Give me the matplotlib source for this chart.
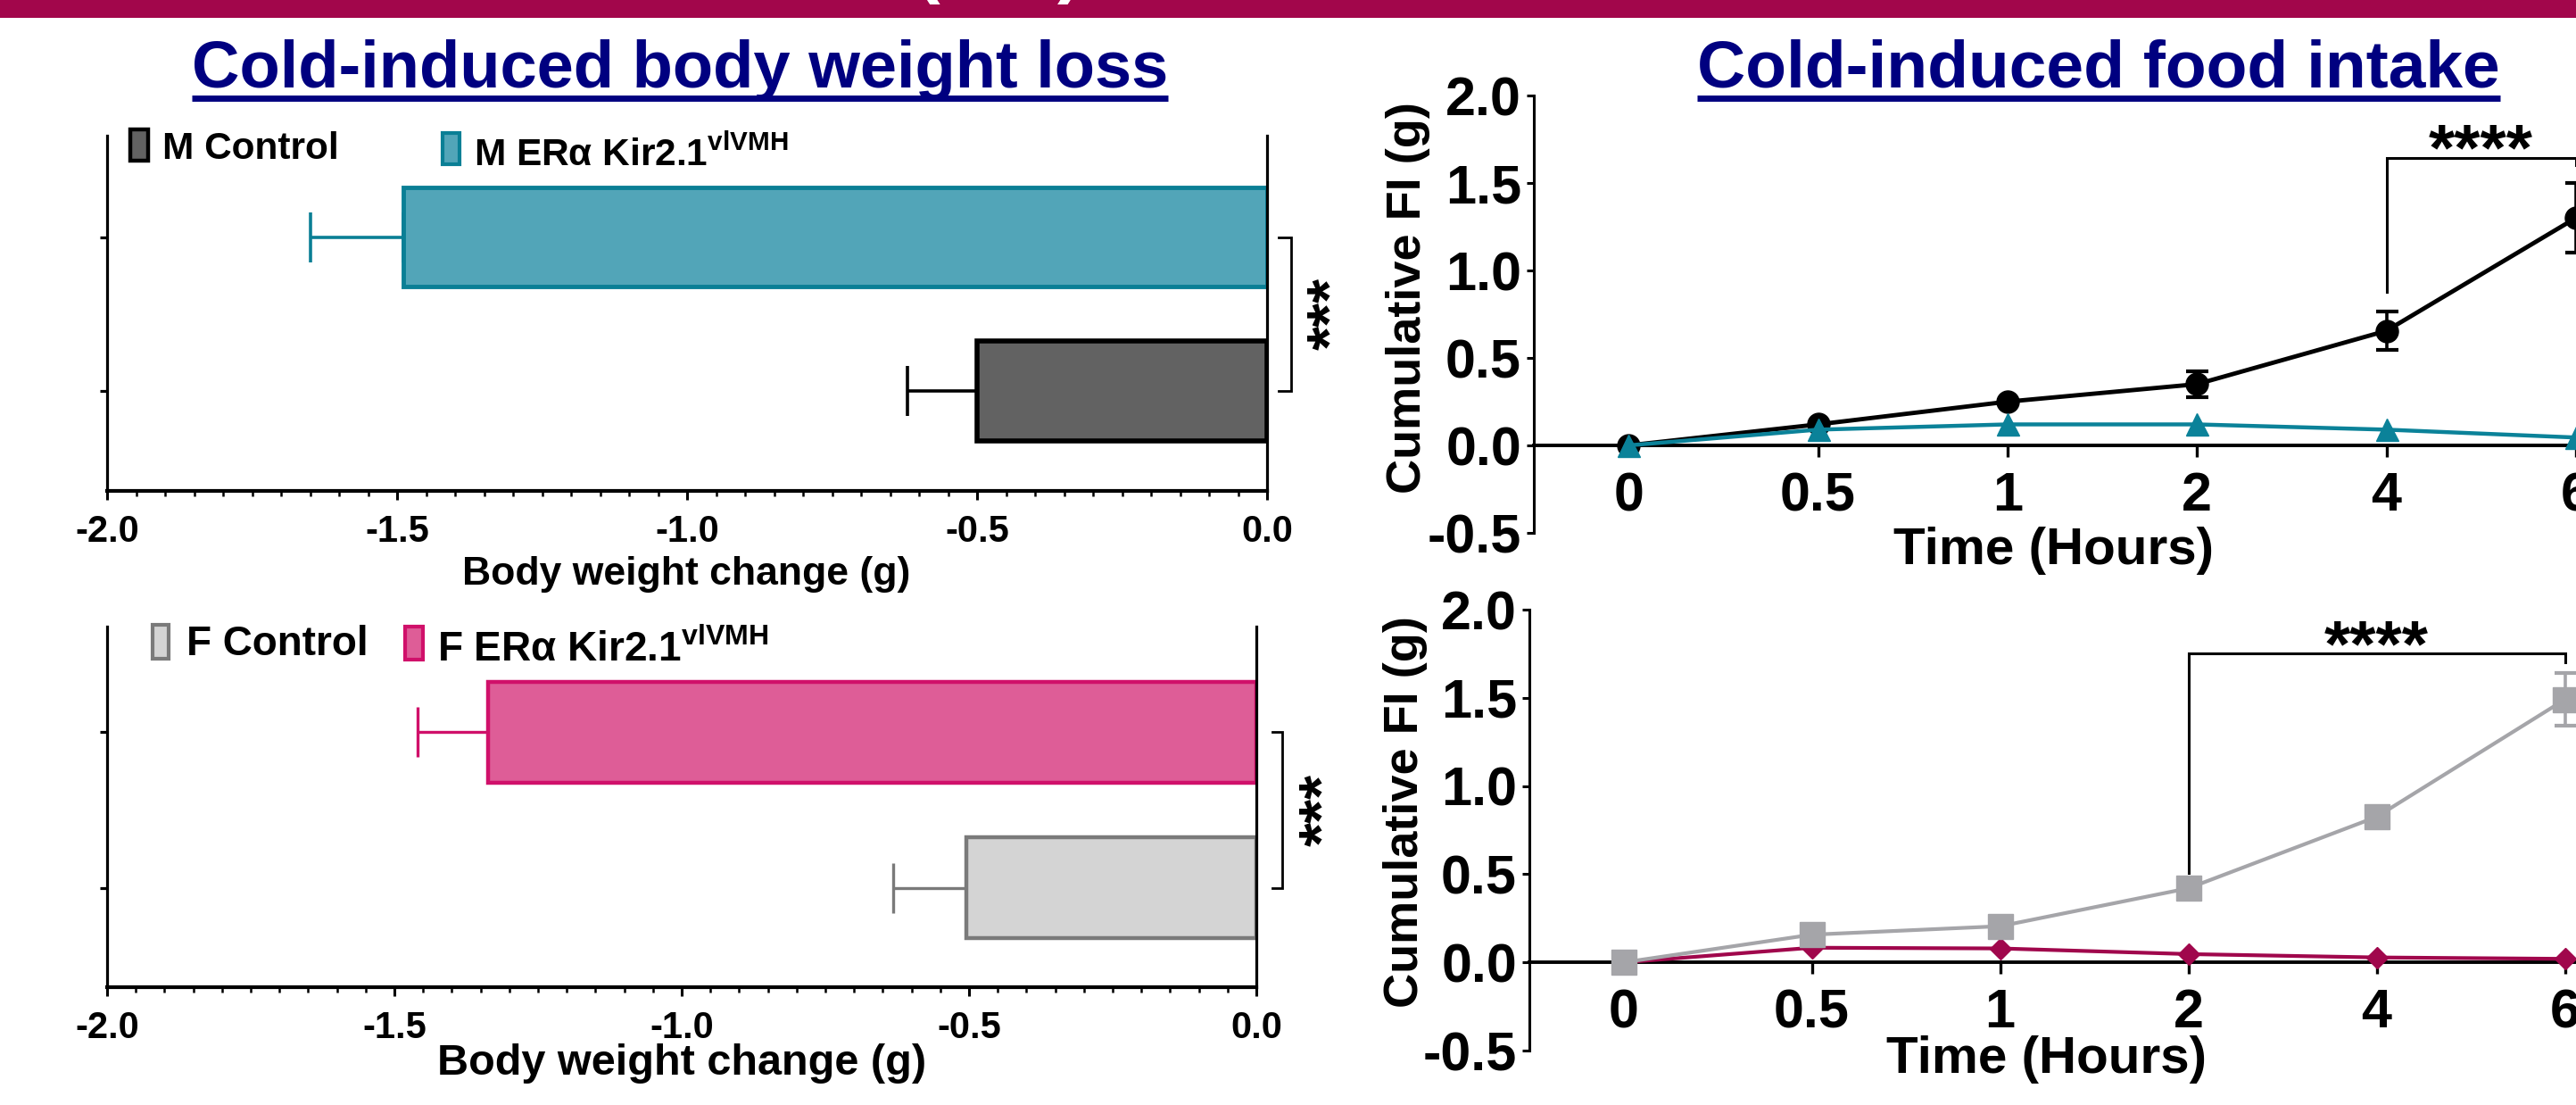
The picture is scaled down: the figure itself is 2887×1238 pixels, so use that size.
import matplotlib
matplotlib.use('Agg')
import matplotlib.pyplot as plt
from matplotlib.patches import Rectangle
from matplotlib.lines import Line2D
from matplotlib.transforms import Affine2D
from matplotlib.ticker import MultipleLocator, FixedLocator, FixedFormatter

plt.rcParams['font.family'] = ['Liberation Sans', 'DejaVu Sans']
plt.rcParams['font.weight'] = 'bold'
plt.rcParams['axes.labelweight'] = 'bold'
plt.rcParams['axes.unicode_minus'] = False
plt.rcParams['mathtext.fontset'] = 'custom'
plt.rcParams['mathtext.rm'] = 'Liberation Sans:bold'
plt.rcParams['mathtext.bf'] = 'Liberation Sans:bold'
plt.rcParams['mathtext.it'] = 'Liberation Sans:bold'

W, H = 2887, 1238
DPI = 100

# ---------------- data ----------------
male_groups = ['M Control', 'M ERα Kir2.1']
male_bw_mean = [-0.50, -1.49]
male_bw_sem = [0.12, 0.16]
female_groups = ['F Control', 'F ERα Kir2.1']
female_bw_mean = [-0.505, -1.337]
female_bw_sem = [0.127, 0.123]
group_superscript = 'vlVMH'
bw_xticklabels = ['-2.0', '-1.5', '-1.0', '-0.5', '0.0']
bw_significance = '***'

time_labels = ['0', '0.5', '1', '2', '4', '6']
fi_m_control = [0.0, 0.12, 0.25, 0.35, 0.655, 1.30]
fi_m_control_sem = [0.0, 0.0, 0.0, 0.075, 0.11, 0.20]
fi_m_kir = [0.0, 0.09, 0.12, 0.12, 0.09, 0.045]
fi_f_control = [0.0, 0.157, 0.205, 0.42, 0.825, 1.49]
fi_f_control_sem = [0.0, 0.0, 0.0, 0.0, 0.0, 0.15]
fi_f_kir = [0.0, 0.083, 0.079, 0.047, 0.028, 0.02]
fi_yticklabels = ['-0.5', '0.0', '0.5', '1.0', '1.5', '2.0']
fi_significance = '****'

# ---------------- styles ----------------
NAVY = '#000080'
BANNER = '#A2064B'
M_CTRL_FILL, M_CTRL_EDGE = '#626262', '#000000'
M_KIR_FILL, M_KIR_EDGE = '#52A5B8', '#0A7F95'
F_CTRL_FILL, F_CTRL_EDGE = '#D4D4D4', '#7A7A7A'
F_KIR_FILL, F_KIR_EDGE = '#DE5D97', '#D0106A'
TEAL = '#0B8299'
GRAY = '#A5A5A9'
MAROON = '#A0074C'

fig = plt.figure(figsize=(W / DPI, H / DPI), dpi=DPI)
PX = Affine2D().scale(1.0 / W, -1.0 / H).translate(0, 1) + fig.transFigure


def ax_px(l, t, r, b):
    return fig.add_axes([l / W, 1 - b / H, (r - l) / W, (b - t) / H])


# banner
fig.add_artist(Rectangle((0, 0), W, 20, transform=PX, facecolor=BANNER,
                         edgecolor='none', zorder=0))
for xx, ch in [(1040, '('), (1199, ')')]:
    fig.text(xx, -12, ch, transform=PX, color='white', fontsize=60,
             ha='center', va='baseline')

# titles with underline
titles = []
for cx, s, fs in [(762, 'Cold-induced body weight loss', 53.4),
                  (2352, 'Cold-induced food intake', 54)]:
    titles.append(fig.text(cx, 98, s, transform=PX, ha='center', va='baseline',
                           fontsize=fs, color=NAVY))


# ---------------- body weight panels ----------------
def bw_panel(rect, ylim, means, sems, fills, edges, lws, elw, xlabel_size,
             xlabel_pos, bracket_x, star_x):
    ax = ax_px(*rect)
    ypos = [0, 1]
    ax.barh(ypos, means, height=0.645, color=fills, edgecolor=edges,
            linewidth=lws, zorder=2)
    for y, m, s, e in zip(ypos, means, sems, edges):
        ax.errorbar(m, y, xerr=[[s], [0]], fmt='none', ecolor=e, elinewidth=elw,
                    capsize=20.5, capthick=elw, zorder=1)
    ax.set_xlim(-2.0, 0.0)
    ax.set_ylim(*ylim)
    ax.spines['top'].set_visible(False)
    for sp in ['left', 'right']:
        ax.spines[sp].set_linewidth(2.3)
    ax.spines['bottom'].set_linewidth(3.0)
    ax.xaxis.set_major_locator(FixedLocator([-2.0, -1.5, -1.0, -0.5, 0.0]))
    ax.xaxis.set_major_formatter(FixedFormatter(bw_xticklabels))
    ax.xaxis.set_minor_locator(MultipleLocator(0.05))
    ax.tick_params(axis='x', which='major', length=7, width=2.2, pad=12,
                   labelsize=30)
    ax.tick_params(axis='x', which='minor', length=4.5, width=1.8)
    ax.set_yticks(ypos)
    ax.set_yticklabels([])
    ax.tick_params(axis='y', length=6, width=2.3, right=False)
    ax.set_xlabel('Body weight change (g)', fontsize=xlabel_size, va='center',
                  fontweight='bold')
    ax.xaxis.set_label_coords(*xlabel_pos)
    bx0, bx1 = bracket_x
    ax.plot([bx0, bx1, bx1, bx0], [1, 1, 0, 0], color='black', lw=2.0,
            clip_on=False, solid_joinstyle='miter')
    ax.text(star_x, 0.5, bw_significance, rotation=90, rotation_mode='anchor',
            ha='center', va='baseline', fontsize=50, clip_on=False)
    return ax


ax1 = bw_panel((120, 152, 1420, 550), (-0.65, 1.66), male_bw_mean, male_bw_sem,
               [M_CTRL_FILL, M_KIR_FILL], [M_CTRL_EDGE, M_KIR_EDGE], [4.0, 3.5],
               2.6, 32, (0.499, -0.236), (0.020, 0.0415), 0.142)
ax2 = bw_panel((120, 702, 1408, 1106), (-0.64, 1.68), female_bw_mean, female_bw_sem,
               [F_CTRL_FILL, F_KIR_FILL], [F_CTRL_EDGE, F_KIR_EDGE], [3.2, 3.2],
               2.4, 35, (0.5, -0.212), (0.028, 0.045), 0.148)


# legends (manual, pixel positioned)
def legend_entry(px, py, pw, ph, fill, edge, elw, tx, ty, label, size, sup=None):
    fig.add_artist(Rectangle((px, py), pw, ph, transform=PX, facecolor=fill,
                             edgecolor=edge, linewidth=elw))
    s = label if sup is None else label + r'$^{\mathrm{' + sup + '}}$'
    fig.text(tx, ty, s, transform=PX, fontsize=size, ha='left', va='baseline')


legend_entry(146, 145, 20, 35, M_CTRL_FILL, M_CTRL_EDGE, 3.2, 182, 178,
             male_groups[0], 30.5)
legend_entry(496, 149, 19, 35, M_KIR_FILL, M_KIR_EDGE, 3.0, 531, 186,
             male_groups[1], 30.5, group_superscript)
legend_entry(171, 700, 18, 38, F_CTRL_FILL, F_CTRL_EDGE, 3.0, 209, 734,
             female_groups[0], 33)
legend_entry(454, 702, 20, 37, F_KIR_FILL, F_KIR_EDGE, 3.0, 490, 741,
             female_groups[1], 33, group_superscript)


# ---------------- food intake panels ----------------
def fi_panel(rect, ctrl, ctrl_sem, kir, ctrl_style, kir_style, ctrl_z, kir_z,
             bracket, star_xy, xlabel_pos, ylabel_pos):
    ax = ax_px(*rect)
    x = list(range(len(time_labels)))
    ax.plot(x, ctrl, zorder=ctrl_z, clip_on=False, **ctrl_style)
    idx = [i for i, s in enumerate(ctrl_sem) if s > 0]
    ax.errorbar([x[i] for i in idx], [ctrl[i] for i in idx],
                yerr=[ctrl_sem[i] for i in idx], fmt='none',
                ecolor=ctrl_style['color'], elinewidth=2.6, capsize=9,
                capthick=3.0, zorder=ctrl_z, clip_on=False)
    ax.plot(x, kir, zorder=kir_z, clip_on=False, **kir_style)
    ax.set_xlim(-0.5, 5.5)
    ax.set_ylim(-0.5, 2.0)
    ax.spines['top'].set_visible(False)
    ax.spines['right'].set_visible(False)
    ax.spines['bottom'].set_position(('data', 0))
    ax.spines['bottom'].set_linewidth(2.8)
    ax.spines['left'].set_linewidth(2.2)
    ax.set_xticks(x)
    ax.set_xticklabels(time_labels)
    ax.set_yticks([-0.5, 0.0, 0.5, 1.0, 1.5, 2.0])
    ax.set_yticklabels(fi_yticklabels)
    ax.tick_params(axis='x', length=9, width=2.4, pad=12, labelsize=44)
    ax.tick_params(axis='y', length=6, width=2.2, pad=4, labelsize=44)
    ax.set_xlabel('Time (Hours)', fontsize=42, va='center', fontweight='bold')
    ax.xaxis.set_label_coords(*xlabel_pos)
    ax.set_ylabel('Cumulative FI (g)', fontsize=39, va='center', ha='center',
                  fontweight='bold')
    ax.yaxis.set_label_coords(*ylabel_pos)
    bx0, bx1, y0, ytop, y1 = bracket
    ax.plot([bx0, bx0, bx1, bx1], [y0, ytop, ytop, y1], color='black', lw=2.2,
            clip_on=False, solid_joinstyle='miter')
    ax.text(star_xy[0], star_xy[1], fi_significance, ha='center', va='baseline',
            fontsize=54, clip_on=False)
    return ax


ax3 = fi_panel((1719, 107, 2993, 597), fi_m_control, fi_m_control_sem, fi_m_kir,
               dict(color='black', lw=3.5, marker='o', ms=18),
               dict(color=TEAL, lw=3.2, marker='^', ms=18),
               4, 5, (4, 5, 0.88, 1.645, 1.60), (4.5, 1.575),
               (0.457, -0.041), (-0.111, 0.537))
ax4 = fi_panel((1714, 683, 2980, 1177), fi_f_control, fi_f_control_sem, fi_f_kir,
               dict(color=GRAY, lw=3.0, marker='s', ms=19.5),
               dict(color=MAROON, lw=3.0, marker='D', ms=12.5),
               5, 4, (3, 5, 0.505, 1.75, 1.70), (4.0, 1.68),
               (0.458, -0.02), (-0.11, 0.542))

# underline titles
fig.canvas.draw()
for t in titles:
    bb = t.get_window_extent()
    fig.add_artist(Line2D([bb.x0 / W, bb.x1 / W], [1 - 109.5 / H] * 2,
                          transform=fig.transFigure, color=NAVY, lw=5.0,
                          solid_capstyle='butt'))

fig.savefig('out.png', dpi=DPI)
